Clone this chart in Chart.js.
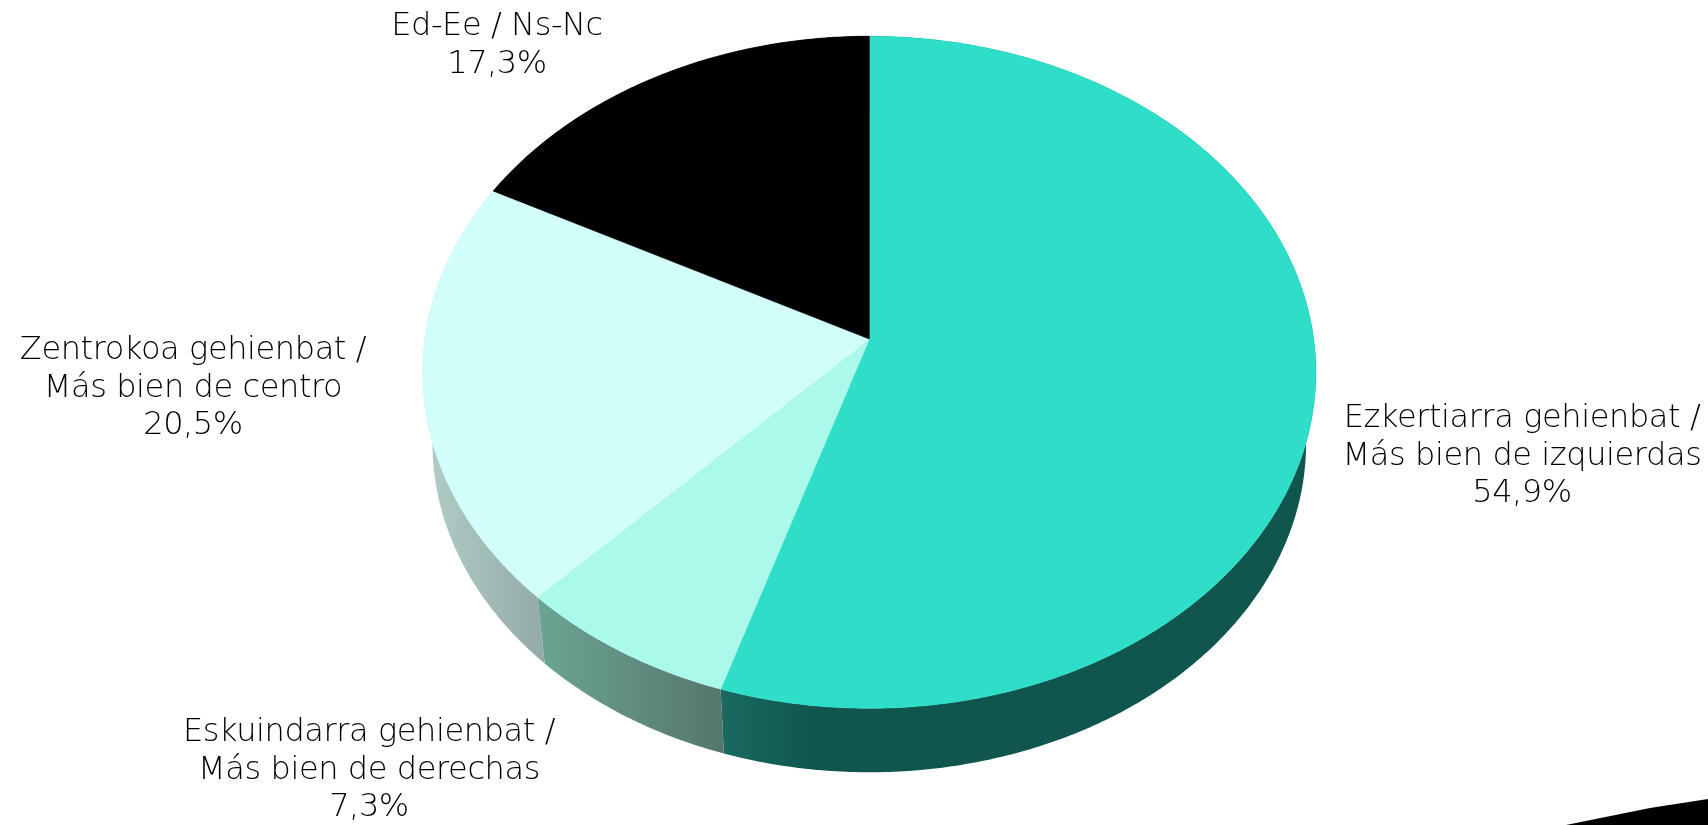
<!DOCTYPE html>
<html>
<head>
<meta charset="utf-8">
<title>Ideologia</title>
<script src="https://cdn.jsdelivr.net/npm/chart.js@4"></script>
<style>
  html, body { margin: 0; padding: 0; background: #fff; overflow: hidden; }
  canvas { display: block; }
</style>
</head>
<body>
<canvas id="pieChart" width="1708" height="825"></canvas>
<script>
var categories = [
  ['Ezkertiarra gehienbat /', 'Más bien de izquierdas'],
  ['Eskuindarra gehienbat /', 'Más bien de derechas'],
  ['Zentrokoa gehienbat /', 'Más bien de centro'],
  ['Ed-Ee / Ns-Nc']
];
var values = [54.9, 7.3, 20.5, 17.3];

var topColors = ['#2edec8', '#abf9eb', '#d2fefa', '#000000'];
var sideColors = [['#186a5e', '#10564e'], ['#6aa393', '#55756c'], ['#aecbc6', '#93aaa6'], ['#000000', '#000000']];
var sideStops = [[725, 815], [545, 727], [432, 545], [0, 1]];
var labelCenters = [[1522, 419], [369, 733], [193, 351], [497, 27]];
var lineHeight = 37.5;

// pie is seen in perspective: the centre sits above the middle of the ellipse
var view = { x: 869.3, y: 339, rx: 444.4, ry: 299.2, k: -0.0989 };
var rim = { cy: 372, dy: 71.4, scale: 0.978 };

function project(angle, lower) {
  var u = Math.cos(angle), v = Math.sin(angle);
  var w = 1 + view.k * v;
  var x = view.x + view.rx * u / w;
  var y = (view.ry * v + view.y) / w;
  if (lower) {
    x = view.x + (x - view.x) * rim.scale;
    y = rim.cy + rim.dy + (y - rim.cy) * rim.scale;
  }
  return [x, y];
}

function traceEdge(ctx, from, to, lower) {
  var steps = Math.ceil(Math.abs(to - from) / 0.01);
  for (var s = 0; s <= steps; s++) {
    var p = project(from + (to - from) * s / steps, lower);
    ctx.lineTo(p[0], p[1]);
  }
}

var tiltedPie = {
  id: 'tiltedPie',
  beforeDatasetsDraw: function (chart) {
    var ctx = chart.ctx;
    var arcs = chart.getDatasetMeta(0).data;
    ctx.save();
    // sides first, the faces cover whatever is behind
    arcs.forEach(function (arc, i) {
      var grad = ctx.createLinearGradient(sideStops[i][0], 0, sideStops[i][1], 0);
      grad.addColorStop(0, sideColors[i][0]);
      grad.addColorStop(1, sideColors[i][1]);
      ctx.beginPath();
      traceEdge(ctx, arc.startAngle, arc.endAngle, false);
      traceEdge(ctx, arc.endAngle, arc.startAngle, true);
      ctx.closePath();
      ctx.fillStyle = grad;
      ctx.fill();
    });
    arcs.forEach(function (arc, i) {
      ctx.beginPath();
      ctx.moveTo(view.x, view.y);
      traceEdge(ctx, arc.startAngle, arc.endAngle, false);
      ctx.closePath();
      ctx.fillStyle = arc.options.backgroundColor;
      ctx.strokeStyle = arc.options.backgroundColor;
      ctx.lineWidth = 0.6;
      ctx.fill();
      ctx.stroke();
    });
    ctx.restore();
    return false;
  },
  afterDraw: function (chart) {
    var ctx = chart.ctx;
    ctx.save();
    ctx.fillStyle = '#000';
    ctx.font = '200 32px "DejaVu Sans"';
    ctx.letterSpacing = '-0.4px';
    ctx.textAlign = 'center';
    ctx.textBaseline = 'middle';
    categories.forEach(function (lines, i) {
      var text = lines.concat([values[i].toFixed(1).replace('.', ',') + '%']);
      text.forEach(function (line, n) {
        ctx.fillText(line, labelCenters[i][0], labelCenters[i][1] + n * lineHeight);
      });
    });
    // stray dark shape in the bottom right corner of the original
    ctx.beginPath();
    ctx.moveTo(1566, 825);
    ctx.lineTo(1650, 808);
    ctx.lineTo(1708, 799);
    ctx.lineTo(1708, 825);
    ctx.closePath();
    ctx.fill();
    ctx.restore();
  }
};

new Chart(document.getElementById('pieChart'), {
  type: 'pie',
  data: {
    labels: categories.map(function (c) { return c.join(' '); }),
    datasets: [{ data: values, backgroundColor: topColors, borderWidth: 0 }]
  },
  options: {
    responsive: false,
    devicePixelRatio: 1,
    animation: false,
    plugins: { legend: { display: false }, tooltip: { enabled: false } }
  },
  plugins: [tiltedPie]
});
</script>
</body>
</html>
